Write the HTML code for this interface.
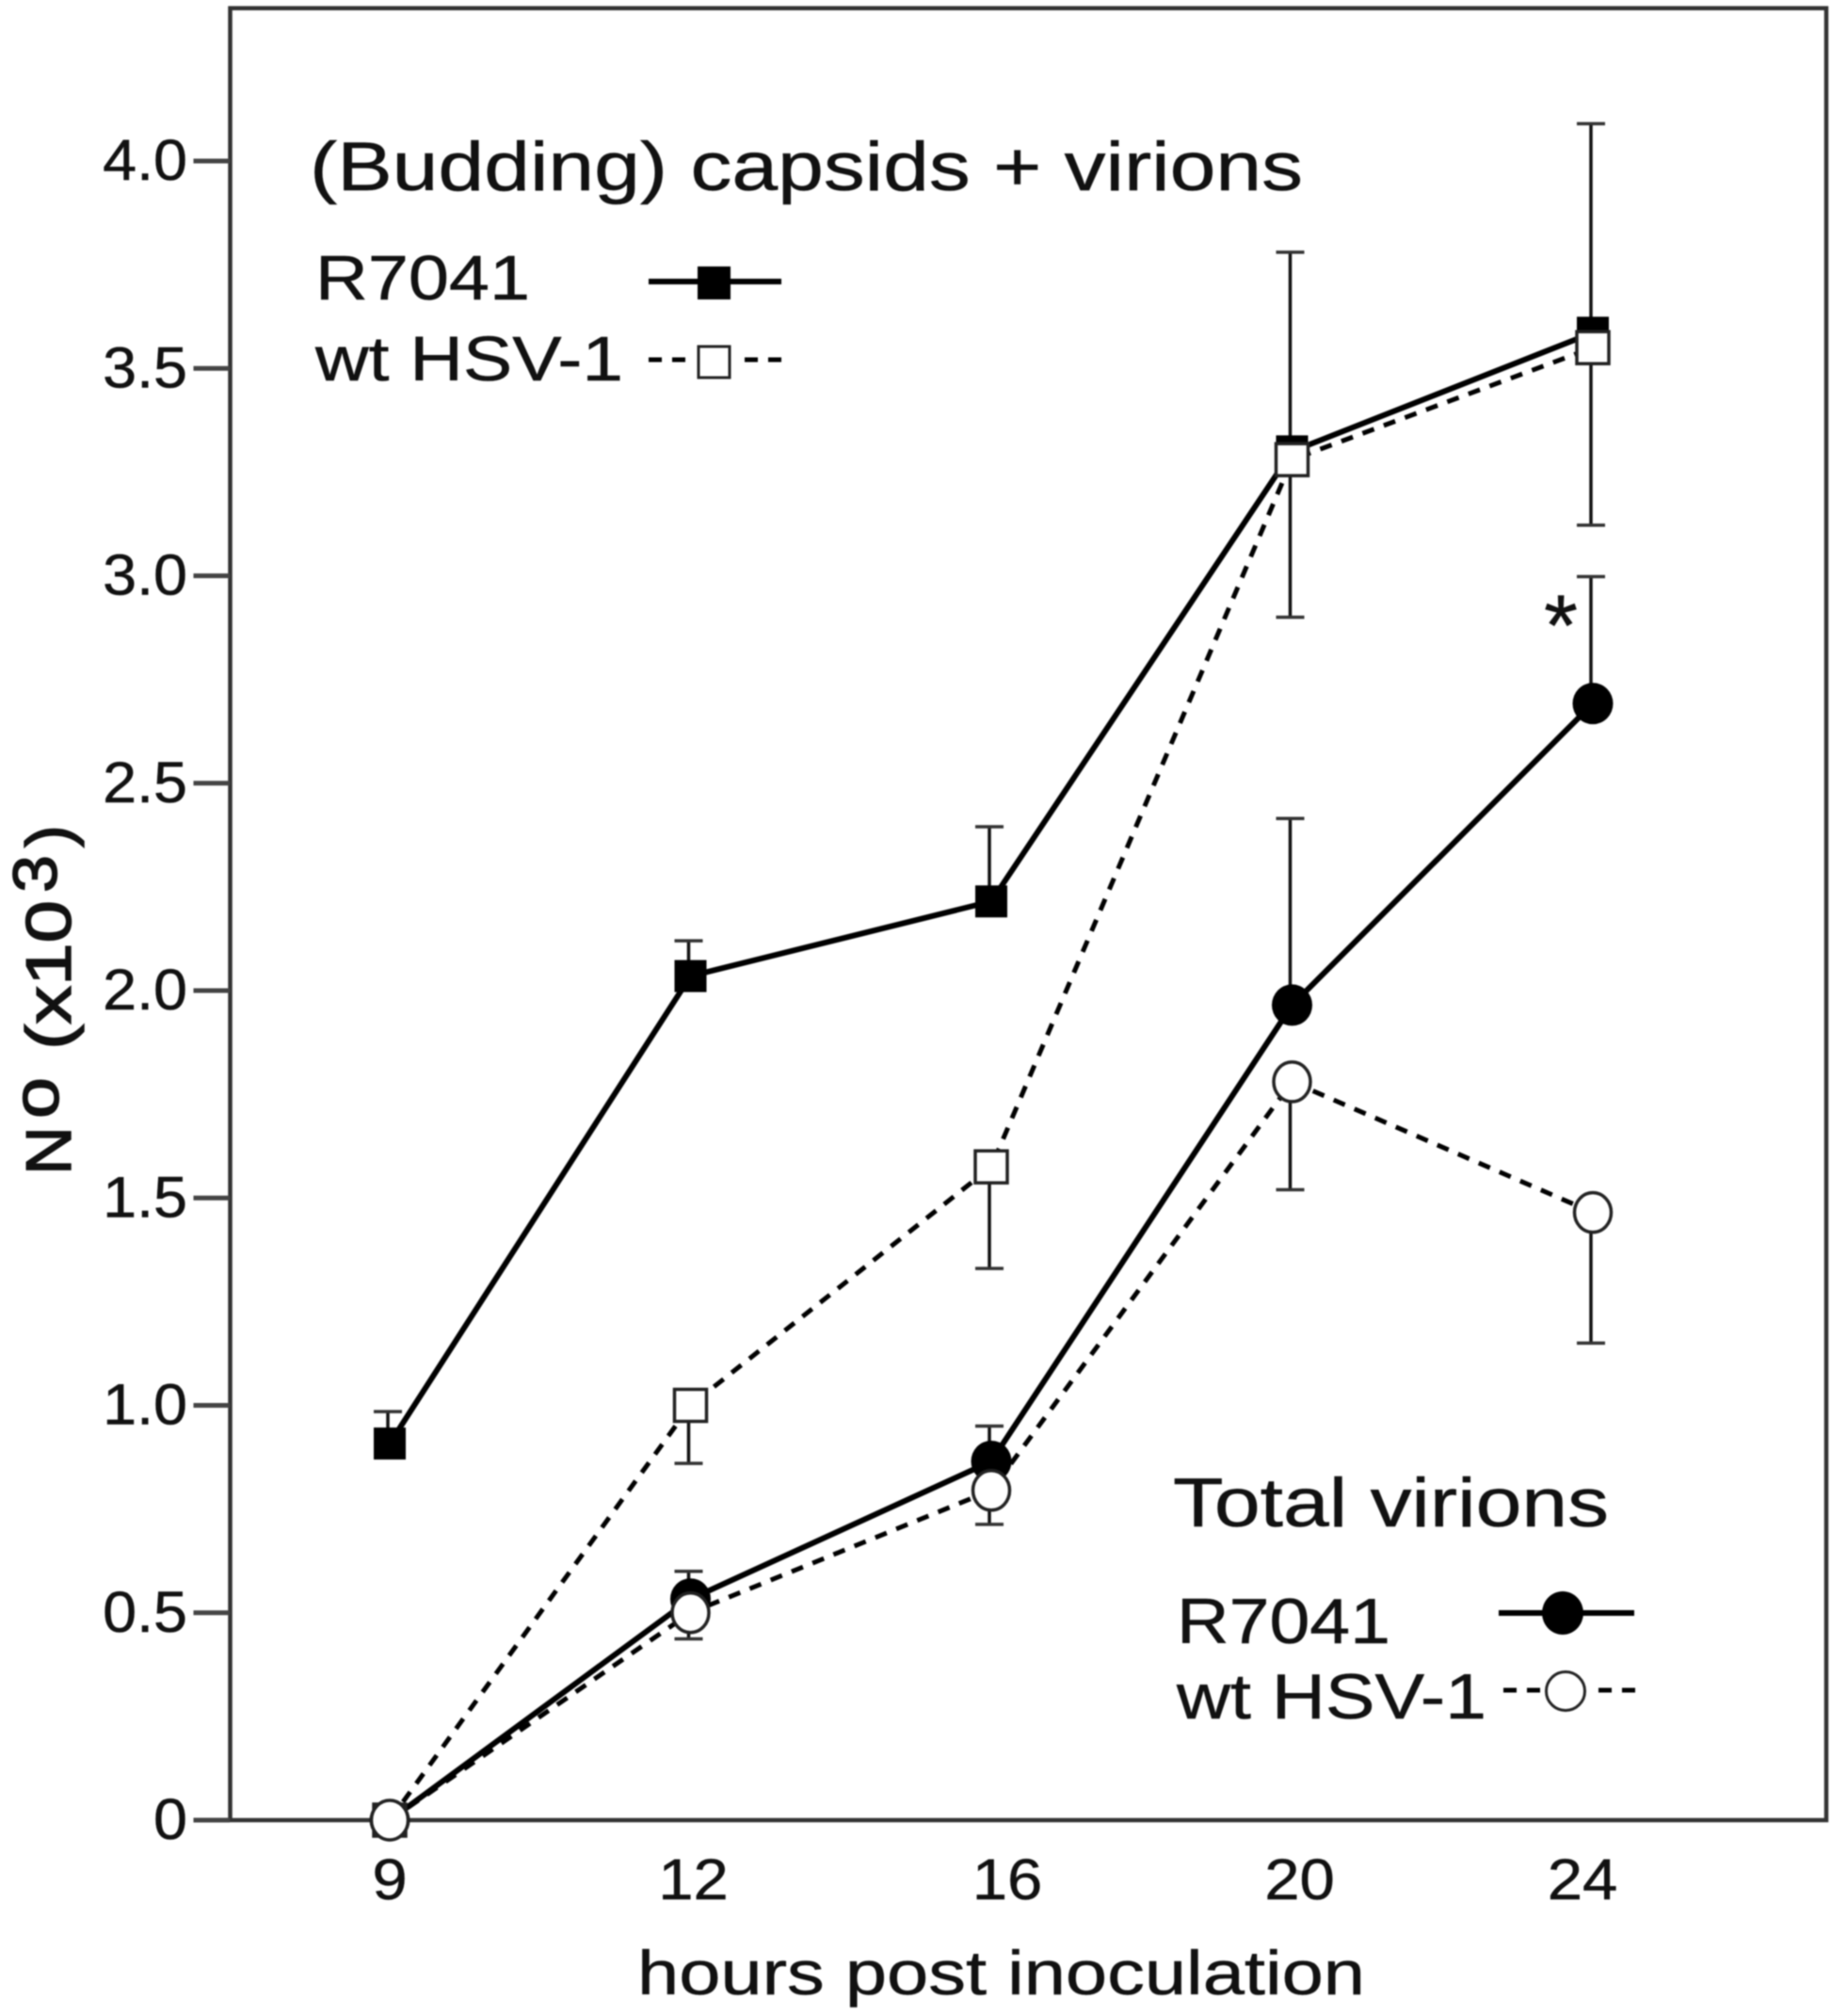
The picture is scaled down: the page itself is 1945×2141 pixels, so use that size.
<!DOCTYPE html>
<html lang="en">
<head>
<meta charset="utf-8">
<title>Capsids and virions over time</title>
<style>
html,body{margin:0;padding:0;background:#fff;}
svg{display:block;filter:blur(0.7px);}
text{font-family:"Liberation Sans",Arial,sans-serif;fill:#111;stroke:#111;stroke-width:0.5px;}
</style>
</head>
<body>
<svg id="chart" xmlns="http://www.w3.org/2000/svg" width="1945" height="2141" viewBox="0 0 1945 2141">
  <rect x="0" y="0" width="1945" height="2141" fill="#fff"/>
  <rect x="244.5" y="8.7" width="1695.5" height="1924.3" fill="none" stroke="#333" stroke-width="4.5"/>
  <g id="axes"></g>
  <g id="marks"></g>

  <text x="329" y="202" font-size="73" textLength="1055" lengthAdjust="spacingAndGlyphs">(Budding) capsids + virions</text>
  <text x="335" y="318" font-size="67" textLength="228" lengthAdjust="spacingAndGlyphs">R7041</text>
  <text x="335" y="404" font-size="67" textLength="327" lengthAdjust="spacingAndGlyphs">wt HSV-1</text>
  <line x1="689" y1="299" x2="830" y2="299" stroke="#000" stroke-width="6"/>
  <rect x="741" y="283" width="35" height="35" fill="#000"/>
  <line x1="689" y1="382" x2="728" y2="382" stroke="#000" stroke-width="5" stroke-dasharray="14 11"/>
  <line x1="791" y1="382" x2="830" y2="382" stroke="#000" stroke-width="5" stroke-dasharray="14 11"/>
  <rect x="742" y="368" width="33" height="33" fill="#fff" stroke="#222" stroke-width="3"/>

  <text x="1246" y="1621" font-size="73" textLength="463" lengthAdjust="spacingAndGlyphs">Total virions</text>
  <text x="1250" y="1745" font-size="68" textLength="227" lengthAdjust="spacingAndGlyphs">R7041</text>
  <text x="1250" y="1825" font-size="68" textLength="329" lengthAdjust="spacingAndGlyphs">wt HSV-1</text>
  <line x1="1592" y1="1713" x2="1736" y2="1713" stroke="#000" stroke-width="6"/>
  <ellipse cx="1660" cy="1713" rx="22" ry="23" fill="#000"/>
  <line x1="1597" y1="1795" x2="1636" y2="1795" stroke="#000" stroke-width="5" stroke-dasharray="14 11"/>
  <line x1="1698" y1="1795" x2="1737" y2="1795" stroke="#000" stroke-width="5" stroke-dasharray="14 11"/>
  <ellipse cx="1663" cy="1796" rx="20.5" ry="20.5" fill="#fff" stroke="#222" stroke-width="3"/>

  <text x="1658" y="696" font-size="92" text-anchor="middle">*</text>
  <text x="677" y="2118" font-size="66" textLength="773" lengthAdjust="spacingAndGlyphs">hours post inoculation</text>

  <g transform="translate(75,1246) rotate(-90)" style="stroke-width:1.2px">
    <text x="-2" y="0" font-size="68" textLength="52" lengthAdjust="spacingAndGlyphs" style="stroke-width:1.4px">N</text>
    <text x="58" y="-13" font-size="70" textLength="44" lengthAdjust="spacingAndGlyphs" style="stroke-width:1.4px">o</text>
    <text x="131" y="0" font-size="68" textLength="159" lengthAdjust="spacingAndGlyphs" style="stroke-width:1.4px">(x10</text>
    <text x="298" y="-15" font-size="66" textLength="40" lengthAdjust="spacingAndGlyphs" style="stroke-width:1.4px">3</text>
    <text x="346" y="0" font-size="68" textLength="24" lengthAdjust="spacingAndGlyphs" style="stroke-width:1.4px">)</text>
  </g>
</svg>
<script>
const hours = ['9', '12', '16', '20', '24'];
const yTickValues = [0, 0.5, 1, 1.5, 2, 2.5, 3, 3.5, 4];
const yTickLabels = ['0', '0.5', '1.0', '1.5', '2.0', '2.5', '3.0', '3.5', '4.0'];
const xLabelNudge = [0, 3, 17, 8, -11];

const buddingR7041 = [0.908, 2.035, 2.215, 3.30, 3.586];
const buddingR7041Upper = [0.985, 2.12, 2.395, 3.78, 4.09];
const buddingWt = [0, 1.0, 1.575, 3.28, 3.55];
const buddingWtLower = [null, 0.86, 1.33, 2.90, 3.122];
const totalR7041 = [0, 0.533, 0.865, 1.965, 2.692];
const totalR7041Upper = [null, 0.60, 0.95, 2.415, 2.998];
const totalWt = [0, 0.5, 0.795, 1.78, 1.465];
const totalWtLower = [null, 0.437, 0.713, 1.52, 1.15];

const SVGNS = 'http://www.w3.org/2000/svg';
const axesLayer = document.getElementById('axes');
const marksLayer = document.getElementById('marks');

function xAt(i) { return 414 + 319.5 * i; }
function yAt(v) { return 1933 - 440.5 * v; }

function make(tag, parent, attrs) {
  const el = document.createElementNS(SVGNS, tag);
  Object.keys(attrs).forEach(function (k) { el.setAttribute(k, attrs[k]); });
  parent.appendChild(el);
  return el;
}

yTickValues.forEach(function (v, i) {
  const tick = make('line', axesLayer, { x1: 205.5, x2: 244, y1: yAt(v), y2: yAt(v), stroke: '#444', 'stroke-width': 5 });
  
  
  const label = make('text', axesLayer, { transform: 'translate(199,' + (yAt(v) + 20) + ') scale(1.06,1)', 'font-size': 61, 'text-anchor': 'end' });
  label.textContent = yTickLabels[i];
  
  
});

hours.forEach(function (h, i) {
  const label = make('text', axesLayer, { transform: 'translate(' + (xAt(i) + xLabelNudge[i]) + ',2017) scale(1.1,1)', 'font-size': 61, 'text-anchor': 'middle' });
  label.textContent = h;
  
  
});

function drawErrors(means, ends, name) {
  ends.forEach(function (e, i) {
    if (e === null) { return; }
    const x = xAt(i) - 2;
    const stem = make('line', marksLayer, { x1: x, x2: x, y1: yAt(means[i]), y2: yAt(e), stroke: '#111', 'stroke-width': 3.5 });
    
    
    const cap = make('line', marksLayer, { x1: x - 15, x2: x + 15, y1: yAt(e), y2: yAt(e), stroke: '#333', 'stroke-width': 3.5 });
    
    
  });
}

function drawLine(values, dashed, name) {
  const pts = values.map(function (v, i) { return xAt(i) + ',' + yAt(v); }).join(' ');
  const line = make('polyline', marksLayer, { points: pts, fill: 'none', stroke: '#000', 'stroke-width': dashed ? 5 : 6 });
  if (dashed) { line.setAttribute('stroke-dasharray', '13 11'); }
  
  
}

function drawSquares(values, open, name) {
  values.forEach(function (v, i) {
    const s = make('rect', marksLayer, {
      x: xAt(i) - 17, y: yAt(v) - 17, width: 34, height: 34,
      fill: open ? '#fff' : '#000', stroke: open ? '#222' : 'none', 'stroke-width': open ? 3.5 : 0
    });
    
    
  });
}

function drawCircles(values, open, name) {
  values.forEach(function (v, i) {
    const c = make('ellipse', marksLayer, {
      cx: xAt(i), cy: yAt(v), rx: open ? 19.5 : 21.5, ry: open ? 21 : 22,
      fill: open ? '#fff' : '#000', stroke: open ? '#222' : 'none', 'stroke-width': open ? 3.5 : 0
    });
    
    
  });
}

drawErrors(buddingR7041, buddingR7041Upper, 'budding-r7041');
drawErrors(buddingWt, buddingWtLower, 'budding-wt');
drawErrors(totalR7041, totalR7041Upper, 'total-r7041');
drawErrors(totalWt, totalWtLower, 'total-wt');

drawLine(buddingR7041, false, 'budding-r7041');
drawLine(buddingWt, true, 'budding-wt');
drawLine(totalR7041, false, 'total-r7041');
drawLine(totalWt, true, 'total-wt');

drawSquares(buddingR7041, false, 'budding-r7041');
drawCircles(totalR7041, false, 'total-r7041');
drawSquares(buddingWt, true, 'budding-wt');
drawCircles(totalWt, true, 'total-wt');
</script>
</body>
</html>
